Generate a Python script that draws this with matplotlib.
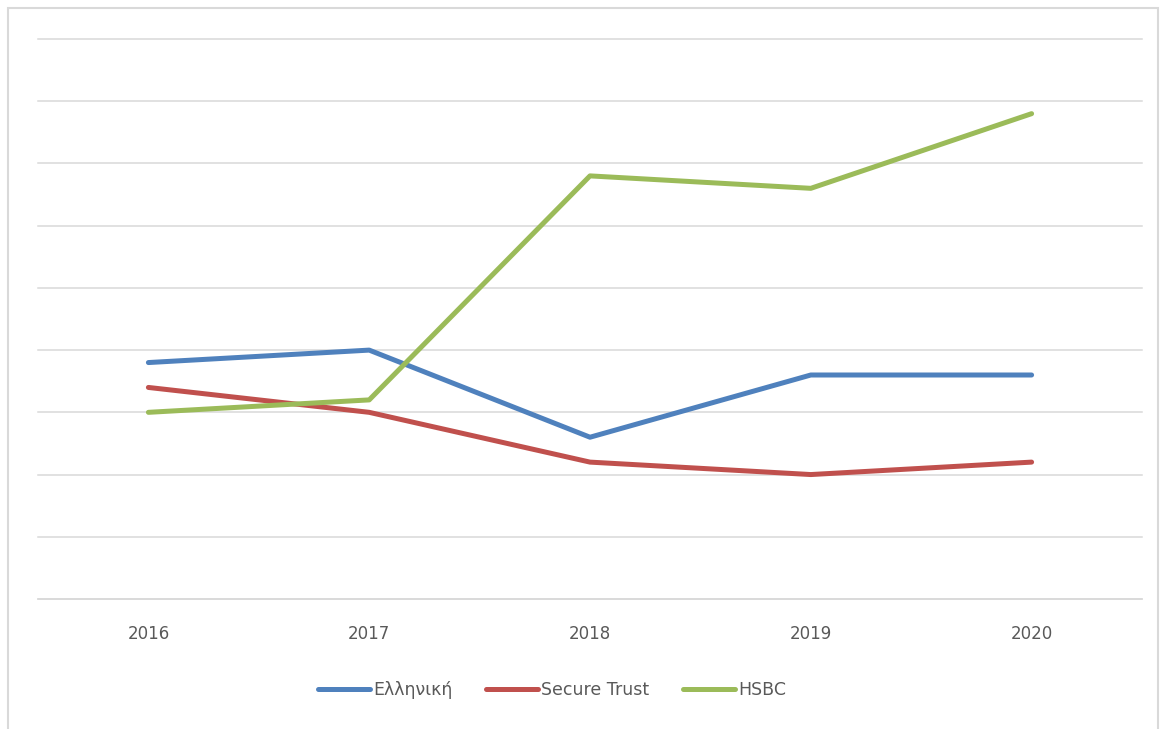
import matplotlib.pyplot as plt
from matplotlib.patches import Rectangle

# Σειρές δεδομένων ανά έτος
years = ['2016', '2017', '2018', '2019', '2020']
ellhniki = [3.8, 4.0, 2.6, 3.6, 3.6]
secure_trust = [3.4, 3.0, 2.2, 2.0, 2.2]
hsbc = [3.0, 3.2, 6.8, 6.6, 7.8]

series = [
    ('Ελληνική', ellhniki, '#4F81BD'),
    ('Secure Trust', secure_trust, '#C0504D'),
    ('HSBC', hsbc, '#9BBB59'),
]

fig = plt.figure(figsize=(11.64, 7.29), dpi=100)
ax = fig.add_axes([38 / 1164, 130 / 729, 1104 / 1164, 560 / 729])

x = range(len(years))
for name, vals, col in series:
    ax.plot(x, vals, color=col, lw=3.6, solid_capstyle='round',
            solid_joinstyle='round', label=name)

ax.set_xlim(-0.5, len(years) - 0.5)
ax.set_ylim(0, 9)
ax.set_yticks(range(0, 10))
ax.set_yticklabels([])
ax.set_xticks(list(x))
ax.set_xticklabels(years, fontsize=12, color='#595959')
ax.tick_params(axis='x', length=0, pad=19)
ax.tick_params(axis='y', length=0)
ax.grid(axis='y', color='#d9d9d9', lw=1.1)
for gl in ax.yaxis.get_gridlines():
    gl.set_clip_on(False)
ax.set_axisbelow(True)
for side in ['top', 'right', 'left']:
    ax.spines[side].set_visible(False)
ax.spines['bottom'].set_color('#d9d9d9')
ax.spines['bottom'].set_linewidth(1.1)

# Πλαίσιο γραφήματος
fig.patches.append(Rectangle((8 / 1164, -0.01), 1150 / 1164, 1 - 8 / 729 + 0.01,
                             transform=fig.transFigure, fill=False,
                             edgecolor='#d9d9d9', lw=1.5))

leg = fig.legend(loc='center', bbox_to_anchor=(552 / 1164, 1 - 690 / 729),
                 ncol=3, frameon=False, fontsize=12.5, handlelength=3.0,
                 handletextpad=0.2, columnspacing=1.9)
for t in leg.get_texts():
    t.set_color('#595959')

fig.savefig('out.png', dpi=100, facecolor='white')
